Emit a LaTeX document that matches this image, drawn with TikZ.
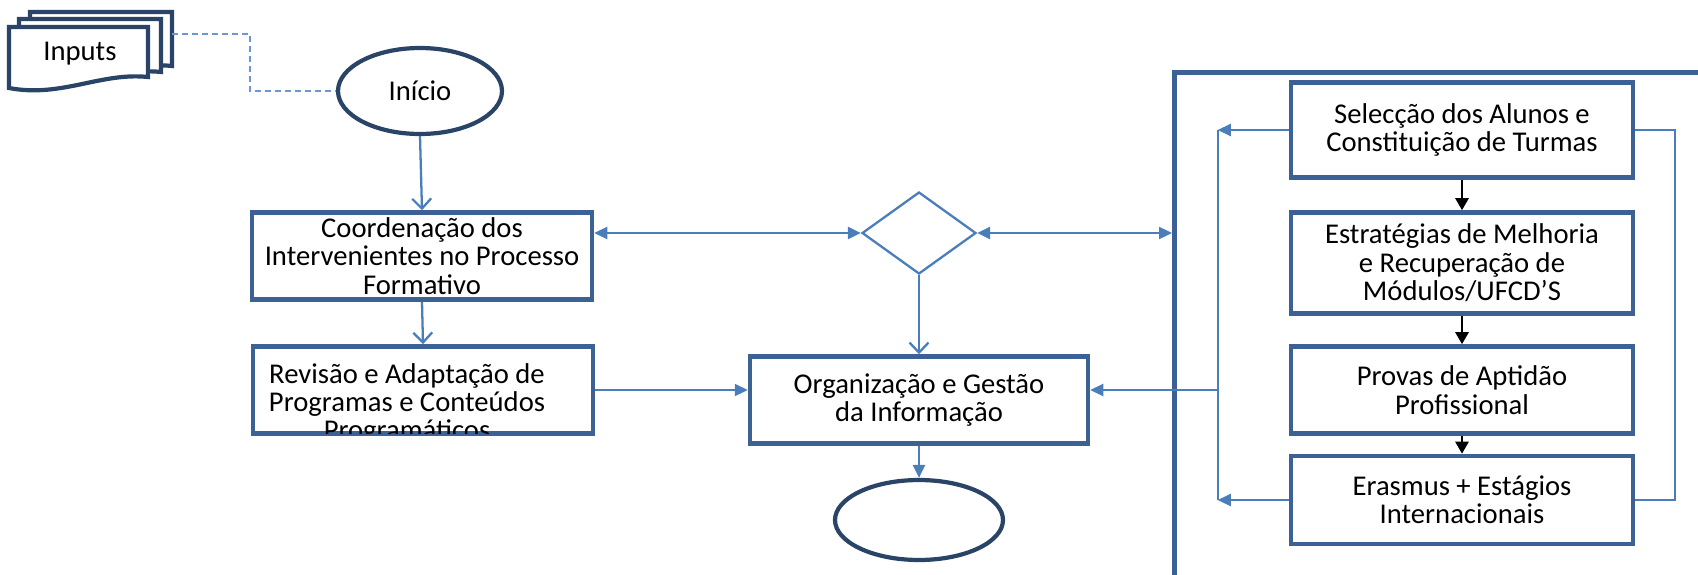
\documentclass[tikz,border=0pt]{standalone}
\usepackage{fontspec}
\setmainfont{Carlito}
\usetikzlibrary{shapes.geometric,arrows.meta}
\definecolor{boxblue}{HTML}{3B6195}
\definecolor{ovalblue}{HTML}{2A4468}
\definecolor{lineblue}{HTML}{4A7EBB}
\definecolor{dashblue}{HTML}{6C97D2}
\begin{document}
\begin{tikzpicture}[x=0.02cm,y=-0.02cm,
  txt/.style={font=\fontsize{16.3}{16.2}\selectfont},
  procbox/.style={draw=boxblue,line width=2.6pt,fill=white,minimum width=6.8cm,minimum height=1.74cm,align=center,inner sep=2pt,txt},
  oval/.style={ellipse,draw=ovalblue,line width=2.4pt,inner sep=0pt,txt},
  docline/.style={draw=ovalblue,line width=2.4pt,fill=white},
  link/.style={draw=lineblue,line width=1.3pt},
  dashlink/.style={draw=dashblue,line width=1.2pt,dash pattern=on 3.4pt off 2.3pt},
  openarrow/.style={link,-{Straight Barb[length=2mm,width=3.8mm]}},
  fillarrow/.style={link,-{Triangle[length=2.6mm,width=2.4mm]}},
  seqarrow/.style={black,line width=1.5pt,-{Triangle[length=2.4mm,width=2.6mm]}}]
\useasboundingbox (0,0) rectangle (1698,575);
% inputs
\draw[docline] (30,12) -- (172,12) -- (172,66) .. controls (125,61) and (85,86) .. (30,76) -- cycle;
\draw[docline] (19,19) -- (161,19) -- (161,72) .. controls (114,67) and (74,92) .. (19,82) -- cycle;
\draw[docline] (9,27) -- (148,27) -- (148,77) .. controls (101,72) and (61,98) .. (9,88) -- cycle;
\node[txt] (inp) at (80,54) {Inputs};
\coordinate (inpout) at (172,34);
% left column
\node[oval,minimum width=3.28cm,minimum height=1.72cm] (ini) at (420,91) {Início};
\node[procbox] (coord) at (422,256) {Coordenação dos\\Intervenientes no Processo\\Formativo};
\node[procbox] (rev) at (423,390) {};
\begin{scope}
\clip ([xshift=1.3pt,yshift=1.3pt]rev.south west) rectangle ([xshift=-1.3pt,yshift=-1.3pt]rev.north east);
\node[txt,align=center] (revtxt) at (407,404) {Revisão e Adaptação de\\Programas e Conteúdos\\Programáticos};
\end{scope}
% middle
\node[diamond,draw=lineblue,line width=1.3pt,minimum width=2.28cm,minimum height=1.64cm,inner sep=0pt] (dec) at (919,233) {};
\node[procbox,minimum width=6.76cm] (org) at (919,400) {Organização e Gestão\\da Informação};
\node[oval,minimum width=3.36cm,minimum height=1.6cm] (fim) at (919,520) {};
% right group
\node[draw=boxblue,line width=2.6pt,minimum width=14cm,minimum height=14cm,anchor=north west,inner sep=0pt] (grp) at (1172,70) {};
\node[procbox,minimum width=6.84cm,minimum height=1.9cm] (sel) at (1462,130) {Selecção dos Alunos e\\Constituição de Turmas};
\node[procbox,minimum width=6.84cm,minimum height=2.02cm] (est) at (1462,263) {Estratégias de Melhoria\\e Recuperação de\\Módulos/UFCD’S};
\node[procbox,minimum width=6.84cm,minimum height=1.74cm] (pap) at (1462,390) {Provas de Aptidão\\Profissional};
\node[procbox,minimum width=6.84cm,minimum height=1.76cm] (era) at (1462,500) {Erasmus + Estágios\\Internacionais};
% connectors
\draw[dashlink] (inpout) -- ++(78,0) |- (ini.west);
\draw[openarrow] (ini.south) -- (coord.north);
\draw[openarrow] (coord.south) -- (rev.north);
\draw[link,{Triangle[length=2.6mm,width=2.4mm]}-{Triangle[length=2.6mm,width=2.4mm]}] (dec.west -| coord.east) -- (dec.west);
\draw[link,{Triangle[length=2.6mm,width=2.4mm]}-{Triangle[length=2.6mm,width=2.4mm]}] (dec.east) -- (dec.east -| grp.west);
\draw[openarrow] (dec.south) -- (org.north);
\draw[fillarrow] (rev.east) -- (rev.east -| org.west);
\draw[fillarrow] (org.south) -- (fim.north);
\draw[seqarrow] (sel) -- (est);
\draw[seqarrow] (est) -- (pap);
\draw[seqarrow] (pap) -- (era);
\draw[fillarrow] (sel.west) -- ++(-71,0) coordinate (bust);
\draw[fillarrow] (era.west) -- (era.west -| bust) coordinate (busb);
\draw[link] (bust) -- (busb);
\draw[fillarrow] (bust |- rev.east) -- (org.east |- rev.east);
\draw[link] (sel.east) -- ++(40,0) |- (era.east);
\end{tikzpicture}
\end{document}
